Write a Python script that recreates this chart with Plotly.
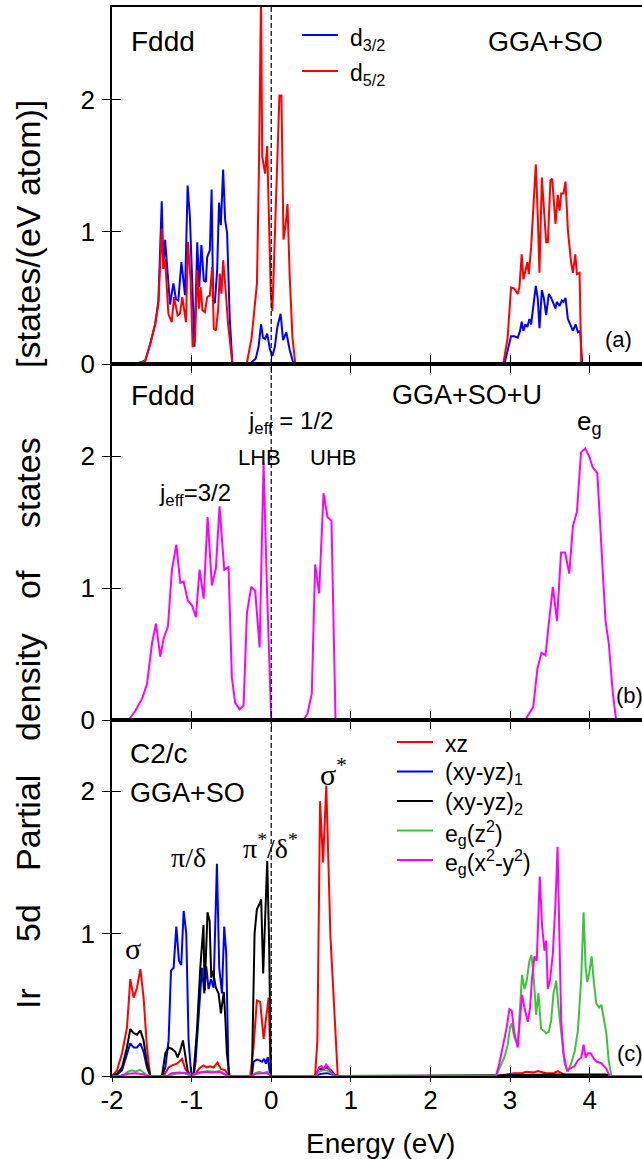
import plotly.graph_objects as go

# ---------------- data (energies in eV, DOS in states/(eV atom)) ----------------
X_TICKS = [-2, -1, 0, 1, 2, 3, 4]
X_TICK_TEXT = ["-2", "-1", "0", "1", "2", "3", "4"]
Y_TICKS = [0, 1, 2]
X_RANGE = [-2.0, 4.658]

# panel (a): Fddd GGA+SO
E_A_D32 = [-2.0, -1.69, -1.583, -1.521, -1.458, -1.417, -1.375, -1.354, -1.333, -1.31, -1.271, -1.229,
           -1.196, -1.167, -1.128, -1.083, -1.05, -1.021, -0.9875, -0.964, -0.929, -0.904, -0.877,
           -0.846, -0.821, -0.804, -0.771, -0.749, -0.729, -0.708, -0.679, -0.656, -0.633, -0.604,
           -0.579, -0.554, -0.521, -0.4875,
           -0.272, -0.195, -0.159, -0.128, -0.103, -0.077, -0.051, -0.015, 0.015, 0.046, 0.077,
           0.118, 0.149, 0.190, 0.231, 0.282,
           2.929, 2.97, 3.013, 3.055, 3.097, 3.126, 3.147, 3.168, 3.193, 3.218, 3.244, 3.265, 3.294,
           3.324, 3.349, 3.37, 3.40, 3.424, 3.454, 3.487, 3.517, 3.546, 3.571, 3.588, 3.622, 3.651,
           3.672, 3.697, 3.727, 3.756, 3.79, 3.824, 3.853, 3.882, 3.907, 4.658]
DOS_A_D32 = [0, 0, 0.025, 0.15, 0.30, 0.48, 1.23, 0.72, 0.94, 0.73, 0.45, 0.61,
             0.49, 0.48, 0.77, 0.52, 1.35, 1.11, 0.60, 0.13, 0.92, 0.58, 0.90,
             0.63, 0.62, 0.81, 0.86, 1.32, 0.48, 0.46, 0.71, 1.22, 1.05, 1.47,
             1.09, 0.99, 0.35, 0,
             0, 0.04, 0.13, 0.30, 0.20, 0.19, 0.23, 0.11, 0.06, 0.13, 0.28,
             0.38, 0.18, 0.24, 0.11, 0,
             0, 0.10, 0.21, 0.21, 0.20, 0.25, 0.32, 0.25, 0.30, 0.28, 0.34, 0.30, 0.43,
             0.59, 0.49, 0.27, 0.56, 0.50, 0.37, 0.53, 0.50, 0.45, 0.42, 0.47, 0.44, 0.48,
             0.47, 0.50, 0.34, 0.30, 0.25, 0.30, 0.24, 0.25, 0, 0]

E_A_D52 = [-2.0, -1.69, -1.583, -1.521, -1.458, -1.417, -1.375, -1.354, -1.333, -1.292, -1.25, -1.221,
           -1.175, -1.146, -1.117, -1.071, -1.046, -1.0125, -0.9875, -0.958, -0.929, -0.908, -0.8875,
           -0.8625, -0.833, -0.804, -0.771, -0.742, -0.721, -0.696, -0.667, -0.646, -0.625, -0.604,
           -0.575, -0.542, -0.4875,
           -0.308, -0.246, -0.179, -0.154, -0.128, -0.113, -0.077, -0.051, -0.026, -0.005, 0.015,
           0.046, 0.077, 0.103, 0.128, 0.154, 0.179, 0.205, 0.231, 0.267, 0.303,
           2.916, 2.97, 3.013, 3.055, 3.097, 3.118, 3.147, 3.168, 3.193, 3.218, 3.235, 3.265, 3.294,
           3.324, 3.349, 3.37, 3.40, 3.42, 3.454, 3.475, 3.508, 3.53, 3.571, 3.60, 3.622, 3.643,
           3.672, 3.697, 3.727, 3.769, 3.79, 3.82, 3.84, 3.874, 3.895, 4.658]
DOS_A_D52 = [0, 0, 0.025, 0.15, 0.30, 0.456, 1.025, 0.722, 0.797, 0.38, 0.316, 0.506,
             0.367, 0.38, 0.506, 0.316, 0.924, 0.633, 0.127, 0.177, 0.709, 0.418, 0.582,
             0.405, 0.392, 0.506, 0.519, 0.734, 0.266, 0.253, 0.405, 0.684, 0.532, 0.785,
             0.582, 0.304, 0,
             0, 0.20, 0.61, 1.49, 2.80, 1.57, 1.44, 1.65, 0.99, 0.53, 0.40,
             0.99, 1.62, 2.03, 2.03, 0.94, 1.04, 1.21, 0.68, 0.20, 0,
             0, 0.20, 0.58, 0.57, 0.53, 0.58, 0.83, 0.64, 0.71, 0.77, 0.68, 0.88, 1.19,
             1.51, 1.11, 0.69, 1.41, 1.24, 0.92, 0.92, 1.39, 1.40, 1.06, 1.28, 1.16, 1.29,
             1.29, 1.38, 1.01, 0.76, 0.69, 0.83, 0.68, 0.69, 0, 0]

# panel (b): Fddd GGA+SO+U
E_B = [-2.0, -1.79, -1.707, -1.623, -1.561, -1.498, -1.448, -1.393, -1.351, -1.297, -1.247, -1.192,
       -1.142, -1.10, -1.05, -0.996, -0.946, -0.90, -0.849, -0.799, -0.745, -0.695, -0.649, -0.59,
       -0.536, -0.494, -0.452, -0.397, -0.347, -0.305, -0.251, -0.201, -0.146, -0.096, -0.054, 0.0,
       0.406, 0.456, 0.51, 0.552, 0.602, 0.657, 0.707, 0.757, 0.808,
       3.19, 3.292, 3.344, 3.395, 3.446, 3.487, 3.538, 3.59, 3.641, 3.692, 3.744, 3.79, 3.841,
       3.892, 3.944, 3.995, 4.036, 4.097, 4.149, 4.20, 4.241, 4.292, 4.333, 4.658]
DOS_B = [0.005, 0, 0.07, 0.16, 0.27, 0.58, 0.73, 0.48, 0.62, 0.71, 1.14, 1.33,
         1.04, 1.05, 0.91, 0.87, 0.78, 1.14, 0.92, 1.54, 1.02, 1.15, 1.62, 1.14,
         1.16, 0.32, 0.13, 0.08, 0.11, 0.81, 1.01, 0.98, 0.55, 1.95, 1.01, 0,
         0, 0.05, 0.20, 1.18, 0.96, 1.72, 1.54, 1.51, 0,
         0, 0.10, 0.39, 0.51, 0.49, 0.73, 1.01, 0.75, 1.27, 1.27, 1.11, 1.47, 1.58,
         2.03, 2.06, 2.00, 1.92, 1.87, 1.27, 0.75, 0.58, 0.20, 0, 0]

# panel (c): C2/c GGA+SO orbital-resolved
E_C_XZ = [-2.0, -1.937, -1.874, -1.812, -1.77, -1.728, -1.686, -1.644, -1.603, -1.561, -1.519,
          -1.351, -1.289, -1.247, -1.184, -1.121, -1.08, -1.017, -0.954, -0.891, -0.849, -0.808,
          -0.766, -0.724, -0.674, -0.632, -0.577, -0.536,
          -0.264, -0.222, -0.18, -0.138, -0.096, -0.054, -0.033, -0.004,
          0.551, 0.58, 0.614, 0.651, 0.692, 0.744, 0.803, 0.836,
          2.85, 2.95, 3.05, 3.15, 3.2, 3.3, 3.35, 3.45, 3.55, 3.6, 3.68, 3.75, 4.658]
DOS_C_XZ = [0, 0.04, 0.16, 0.34, 0.68, 0.55, 0.62, 0.75, 0.55, 0.20, 0,
            0, 0.06, 0.075, 0.087, 0.12, 0.05, 0, 0.016, 0.06, 0.075, 0.06,
            0.068, 0.06, 0.094, 0.05, 0.04, 0,
            0, 0.20, 0.53, 0.52, 0.26, 0.46, 0.55, 0,
            0, 0.25, 1.93, 1.50, 2.04, 0.98, 0.32, 0,
            0, 0.01, 0.02, 0.02, 0.03, 0.025, 0.035, 0.02, 0.02, 0.035, 0.01, 0, 0]

E_C_XY1 = [-2.0, -1.937, -1.874, -1.812, -1.77, -1.728, -1.686, -1.644, -1.603, -1.561, -1.519,
           -1.372, -1.33, -1.289, -1.259, -1.226, -1.192, -1.159, -1.13, -1.10, -1.067, -1.038,
           -1.008, -0.975, -0.95, -0.92, -0.89, -0.87, -0.841, -0.816, -0.787, -0.757, -0.724,
           -0.682, -0.653, -0.619, -0.59, -0.565, -0.536,
           -0.243, -0.222, -0.18, -0.146, -0.117, -0.088, -0.067, -0.042, -0.013,
           0.55, 0.62, 0.70, 0.80, 0.83, 2.9, 3.0, 4.2, 4.25, 4.658]
DOS_C_XY1 = [0, 0.01, 0.04, 0.16, 0.23, 0.20, 0.20, 0.23, 0.17, 0.06, 0,
             0, 0.06, 0.25, 0.74, 0.76, 1.05, 0.81, 0.78, 1.16, 1.0, 0.25,
             0.03, 0, 0.10, 0.35, 0.62, 0.76, 0.58, 0.77, 0.61, 0.68, 0.62,
             1.49, 0.76, 0.58, 1.05, 0.86, 0,
             0, 0.10, 0.115, 0.11, 0.10, 0.12, 0.087, 0.133, 0,
             0, 0.015, 0.02, 0.005, 0, 0, 0.005, 0.005, 0, 0]

E_C_XY2 = [-2.0, -1.937, -1.874, -1.812, -1.77, -1.728, -1.686, -1.644, -1.603, -1.561, -1.519,
           -1.372, -1.33, -1.289, -1.247, -1.205, -1.176, -1.142, -1.109, -1.08, -1.05, -1.017,
           -0.975, -0.933, -0.891, -0.851, -0.836, -0.80, -0.774, -0.753, -0.733, -0.695, -0.661,
           -0.632, -0.595, -0.575, -0.557, -0.523,
           -0.243, -0.209, -0.18, -0.146, -0.126, -0.101, -0.067, -0.05, -0.025, -0.004,
           0.55, 0.60, 0.65, 0.70, 0.75, 0.80, 0.83,
           2.85, 2.95, 3.5, 3.9, 4.0, 4.2, 4.27, 4.658]
DOS_C_XY2 = [0, 0.016, 0.06, 0.20, 0.33, 0.30, 0.29, 0.32, 0.25, 0.09, 0,
             0, 0.16, 0.20, 0.19, 0.17, 0.13, 0.18, 0.25, 0.13, 0.04, 0,
             0.016, 0.32, 0.76, 1.06, 0.60, 1.15, 1.09, 0.69, 0.74, 0.62, 0.58,
             0.44, 0.59, 0.39, 0.16, 0,
             0, 1.0, 1.17, 1.21, 1.24, 0.72, 1.19, 1.51, 0.90, 0,
             0, 0.05, 0.05, 0.06, 0.04, 0.01, 0,
             0, 0.005, 0.01, 0.01, 0.015, 0.01, 0, 0]

E_C_Z2 = [-2.0, -1.9, -1.85, -1.8, -1.75, -1.7, -1.65, -1.6, -1.55,
          -1.3, -1.2, -1.1, -1.0, -0.9, -0.8, -0.7, -0.65, -0.6, -0.54,
          -0.24, -0.2, -0.15, -0.1, -0.05, -0.01,
          0.56, 0.60, 0.65, 0.70, 0.75, 0.80,
          2.824, 2.866, 2.929, 2.971, 3.0, 3.021, 3.055, 3.097, 3.126, 3.151, 3.181, 3.21, 3.244,
          3.269, 3.294, 3.328, 3.357, 3.391, 3.42, 3.454, 3.487, 3.517, 3.546, 3.58, 3.613, 3.643,
          3.685, 3.727, 3.769, 3.811, 3.853, 3.895, 3.924, 3.95, 3.971, 4.0, 4.025, 4.055, 4.084,
          4.118, 4.147, 4.176, 4.21, 4.239, 4.273, 4.658]
DOS_C_Z2 = [0, 0, 0.01, 0.03, 0.04, 0.03, 0.045, 0.02, 0,
            0, 0.015, 0.02, 0, 0.02, 0.035, 0.03, 0.035, 0.02, 0,
            0, 0.02, 0.03, 0.02, 0.03, 0,
            0, 0.03, 0.04, 0.04, 0.02, 0,
            0, 0.05, 0.13, 0.22, 0.34, 0.37, 0.27, 0.22, 0.46, 0.71, 0.61, 0.67, 0.81,
            0.85, 0.72, 0.43, 0.58, 0.33, 0.32, 0.30, 0.31, 0.39, 0.58, 0.67, 0.46, 0.30,
            0.09, 0.03, 0.09, 0.17, 0.32, 0.69, 1.15, 0.76, 0.66, 0.74, 0.84, 0.65, 0.51,
            0.48, 0.50, 0.41, 0.30, 0.11, 0, 0]

E_C_X2Y2 = [-2.0, -1.9, -1.8, -1.7, -1.6, -1.55,
            -1.3, -1.25, -1.15, -1.05, -1.0, -0.95, -0.85, -0.75, -0.65, -0.55,
            -0.25, -0.2, -0.1, -0.05, 0.0,
            0.56, 0.60, 0.63, 0.66, 0.69, 0.72, 0.76, 0.80,
            2.824, 2.866, 2.908, 2.958, 2.992, 3.021, 3.055, 3.097, 3.126, 3.151, 3.181, 3.223,
            3.252, 3.277, 3.307, 3.336, 3.374, 3.403, 3.433, 3.454, 3.475, 3.504, 3.538, 3.571,
            3.597, 3.622, 3.643, 3.672, 3.714, 3.748, 3.811, 3.853, 3.895, 3.924, 3.95, 3.979,
            4.013, 4.055, 4.092, 4.147, 4.21, 4.252, 4.658]
DOS_C_X2Y2 = [0, 0, 0.015, 0.02, 0.01, 0,
              0, 0.02, 0.025, 0.02, 0.005, 0.02, 0.03, 0.025, 0.03, 0,
              0, 0.015, 0.02, 0.02, 0,
              0, 0.06, 0.07, 0.05, 0.08, 0.06, 0.02, 0,
              0, 0.09, 0.20, 0.34, 0.47, 0.46, 0.30, 0.20, 0.41, 0.57, 0.48, 0.38,
              0.48, 0.69, 0.84, 0.81, 1.40, 1.05, 0.88, 0.95, 0.61, 0.68, 0.86, 1.21,
              1.61, 1.05, 0.39, 0.16, 0.04, 0.05, 0.07, 0.11, 0.13, 0.22, 0.13, 0.16,
              0.16, 0.12, 0.10, 0.09, 0.05, 0, 0]

LEGEND_A = ["d<sub>3/2</sub>", "d<sub>5/2</sub>"]
LEGEND_C = ["xz", "(xy-yz)<sub>1</sub>", "(xy-yz)<sub>2</sub>",
            "e<sub>g</sub>(z<sup>2</sup>)", "e<sub>g</sub>(x<sup>2</sup>-y<sup>2</sup>)"]

RED, BLUE, BLACK, GREEN, MAGENTA = "#ff0000", "#0000ff", "#000000", "#3cc23c", "#ff00ff"
FONT = "Liberation Sans, Arial, Helvetica, sans-serif"
SERIF = "Liberation Serif, Times New Roman, serif"

# ---------------- figure ----------------
W, H = 642, 1159
L, R, T, B = 112, 0, 7, 83
PW, PH = W - L - R, H - T - B


def px(xp):
    return (xp - L) / PW


def py(yp):
    return (H - B - yp) / PH


fig = go.Figure()

def add(x, y, color, xa, ya):
    fig.add_trace(go.Scatter(x=x, y=y, mode="lines", line=dict(color=color, width=2),
                             xaxis=xa, yaxis=ya, showlegend=False, hoverinfo="skip"))

add(E_A_D32, DOS_A_D32, BLUE, "x", "y")
add(E_A_D52, DOS_A_D52, RED, "x", "y")
add(E_B, DOS_B, MAGENTA, "x2", "y2")
add(E_C_XZ, DOS_C_XZ, RED, "x3", "y3")
add(E_C_XY1, DOS_C_XY1, BLUE, "x3", "y3")
add(E_C_XY2, DOS_C_XY2, BLACK, "x3", "y3")
add(E_C_Z2, DOS_C_Z2, GREEN, "x3", "y3")
add(E_C_X2Y2, DOS_C_X2Y2, MAGENTA, "x3", "y3")
# empty traces so that overlay tick axes are rendered
for xa, ya in [("x", "y4"), ("x2", "y5"), ("x3", "y6"), ("x4", "y3")]:
    fig.add_trace(go.Scatter(x=[], y=[], xaxis=xa, yaxis=ya, showlegend=False))

dom_a, dom_b, dom_c = [py(364), 1.0], [py(720), py(364)], [0.0, py(720)]

xcommon = dict(range=X_RANGE, tickvals=X_TICKS, ticktext=X_TICK_TEXT, ticks="inside", ticklen=9,
               tickwidth=1.3, tickcolor="black", showline=True, linecolor="black", linewidth=1.5,
               showgrid=False, zeroline=False, layer="above traces")
ycommon = dict(tickvals=Y_TICKS, ticks="inside", ticklen=9, tickwidth=1.3, tickcolor="black",
               showline=True, linecolor="black", linewidth=1.5, showgrid=False, zeroline=False,
               tickfont=dict(family=FONT, size=26, color="black"), ticklabelstandoff=10)
yover = dict(tickvals=Y_TICKS, ticks="outside", ticklen=9, tickwidth=1.3, tickcolor="black",
             showline=False, showgrid=False, zeroline=False, showticklabels=False)

fig.update_layout(
    width=W, height=H, margin=dict(l=L, r=R, t=T, b=B),
    paper_bgcolor="white", plot_bgcolor="white", showlegend=False,
    xaxis=dict(domain=[0, 1], anchor="y", showticklabels=False, mirror=True, **xcommon),
    xaxis2=dict(domain=[0, 1], anchor="y2", showticklabels=False, mirror="ticks", **xcommon),
    xaxis3=dict(domain=[0, 1], anchor="y3", showticklabels=True, mirror="ticks",
                tickfont=dict(family=FONT, size=26, color="black"), **xcommon),
    xaxis4=dict(overlaying="x3", anchor="y3", range=X_RANGE, tickvals=X_TICKS, ticks="outside",
                ticklen=5, tickwidth=1.3, tickcolor="black", showline=False, showgrid=False,
                zeroline=False, showticklabels=False),
    yaxis=dict(domain=dom_a, anchor="x", range=[0, 2.70], **ycommon),
    yaxis2=dict(domain=dom_b, anchor="x2", range=[0, 2.70], **ycommon),
    yaxis3=dict(domain=dom_c, anchor="x3", range=[0, 2.50], **ycommon),
    yaxis4=dict(overlaying="y", anchor="x", range=[0, 2.70], **yover),
    yaxis5=dict(overlaying="y2", anchor="x2", range=[0, 2.70], **yover),
    yaxis6=dict(overlaying="y3", anchor="x3", range=[0, 2.50], **yover),
)

# Fermi level
fig.add_shape(type="line", xref="x", yref="paper", x0=0, x1=0, y0=0, y1=1,
              line=dict(color="black", width=1.2, dash="5px,3px"))

ann = []

def text(t, xp, yp, size=27, xanchor="left", family=FONT, angle=0):
    ann.append(dict(text=t, x=px(xp), y=py(yp), xref="paper", yref="paper", xanchor=xanchor,
                    yanchor="middle", showarrow=False, textangle=angle,
                    font=dict(family=family, size=size, color="black")))

# panel a
text("Fddd", 129, 42, size=28)
text("GGA+SO", 486, 42)
text("(a)", 603, 340, size=22)
for i, (lab, col) in enumerate(zip(LEGEND_A, [BLUE, RED])):
    yl = 35 + 36 * i
    fig.add_shape(type="line", xref="paper", yref="paper", x0=px(302), x1=px(338),
                  y0=py(yl), y1=py(yl), line=dict(color=col, width=2))
    text(lab, 348, yl + 4, size=23)

# panel b
text("Fddd", 129, 395, size=28)
text("GGA+SO+U", 390, 395)
text("j<sub>eff</sub> = 1/2", 246, 422, size=24)
text("LHB", 259, 457, size=22, xanchor="center")
text("UHB", 333, 457, size=22, xanchor="center")
text("j<sub>eff</sub>=3/2", 157, 494, size=24)
text("e<sub>g</sub>", 575, 422, size=26)
text("(b)", 614, 695, size=22)

# panel c
text("C2/c", 128, 753, size=28)
text("GGA+SO", 128, 793)
text("(c)", 615, 1053, size=22)
for i, (lab, col) in enumerate(zip(LEGEND_C, [RED, BLUE, BLACK, GREEN, MAGENTA])):
    yl = 742 + 29.5 * i
    fig.add_shape(type="line", xref="paper", yref="paper", x0=px(397), x1=px(433),
                  y0=py(yl), y1=py(yl), line=dict(color=col, width=2))
    text(lab, 443, yl + 2, size=23)
text("σ", 133, 948, size=30, xanchor="center", family=SERIF)
text("π/δ", 169, 858, size=28, family=SERIF)
text("π<sup>*</sup>/δ<sup>*</sup>", 241, 846, size=28, family=SERIF)
text("σ<sup>*</sup>", 318, 772, size=30, family=SERIF)

# axis titles
text("Energy (eV)", 380, 1143, size=28, xanchor="center")
for word, yc in [("[states/(eV atom)]", 234), ("states", 483), ("of", 585), ("density", 687),
                 ("Partial", 823), ("5d", 923), ("Ir", 999)]:
    text(word, 28, yc, size=34, xanchor="center", angle=-90)

fig.update_layout(annotations=ann)
fig.write_html("out.html", config={"displayModeBar": False},
               post_script="document.body.style.margin='0px';document.body.style.overflow='hidden';")
